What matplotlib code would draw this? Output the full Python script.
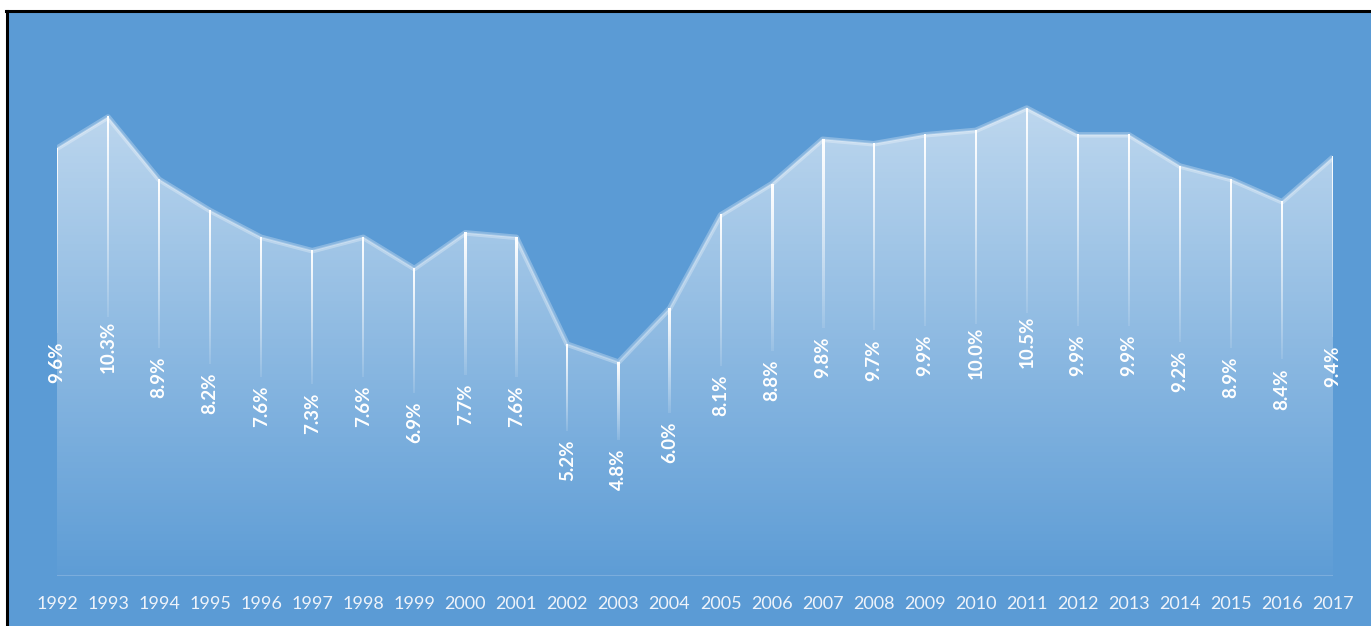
import numpy as np
import matplotlib
matplotlib.use("Agg")
import matplotlib.pyplot as plt
from matplotlib.lines import Line2D
from matplotlib.patches import Polygon

years = [str(y) for y in range(1992, 2018)]
values = [9.6, 10.3, 8.9, 8.2, 7.6, 7.3, 7.6, 6.9, 7.7, 7.6, 5.2, 4.8, 6.0,
          8.1, 8.8, 9.8, 9.7, 9.9, 10.0, 10.5, 9.9, 9.9, 9.2, 8.9, 8.4, 9.4]
labels = [f"{v:.1f}%" for v in values]

BG = "#5B9BD5"
W, H = 1371, 626
fig = plt.figure(figsize=(W / 100, H / 100), dpi=100, facecolor="white")

# blue chart area (background axes)
bg = fig.add_axes([8 / W, 0, 1 - 8 / W, 1 - 12 / H], zorder=-5)
bg.set_facecolor(BG)
bg.set_xticks([]); bg.set_yticks([])
for s in bg.spines.values():
    s.set_visible(False)

fig.lines.append(Line2D([7 / W, 7 / W], [0, 1 - 11 / H], transform=fig.transFigure,
                        color="black", lw=2.2, zorder=10))
fig.lines.append(Line2D([6 / W, 1], [1 - 11 / H, 1 - 11 / H], transform=fig.transFigure,
                        color="black", lw=2.2, zorder=10))

left, right = 57 / W, 1333 / W
bottom = (H - 576) / H
top = 1 - 12 / H
ax = fig.add_axes([left, bottom, right - left, top - bottom], zorder=1)
ax.set_facecolor("none")
n = len(values)
x = np.arange(n)
scale = 44.56
ymax = (576 - 12) / scale
for s in ax.spines.values():
    s.set_visible(False)
ax.set_yticks([])
ax.set_xticks(x)
ax.set_xticklabels(years, color="#EEF3FA", fontsize=13, family=["Lato", "DejaVu Sans"])
ax.tick_params(axis="x", length=0, pad=14.5)

# gradient fill clipped to area polygon
vmax = max(values)
poly_pts = np.vstack([[0, 0], np.column_stack([x, values]), [n - 1, 0]])
poly = Polygon(poly_pts, closed=True, facecolor="none", edgecolor="none")
ax.add_patch(poly)
grad = np.zeros((256, 2, 4))
grad[..., :3] = 1.0
alpha = np.linspace(0.02, 0.6, 256)
grad[..., 3] = alpha[:, None]
im = ax.imshow(grad, extent=[0, n - 1, 0, vmax], origin="lower", aspect="auto",
               interpolation="bilinear", zorder=1)
im.set_clip_path(poly)

# top edge glow
ax.plot(x, values, color="white", alpha=0.28, lw=4, solid_capstyle="butt", zorder=2)
ax.plot(x, values, color="white", alpha=0.25, lw=1.2, zorder=2)

# baseline
ax.axhline(0, color="white", alpha=0.18, lw=1.5, zorder=2)

# fading drop lines (vertical gradient images)
px = (n - 1) / (1333 - 57)  # one pixel in data x units
line_grad = np.zeros((64, 1, 4))
line_grad[..., :3] = 1.0
line_grad[:, 0, 3] = np.linspace(0.12, 1.0, 64)
for xi, v in zip(x, values):
    y_end = v / 2 + 0.66
    ax.imshow(line_grad, extent=[xi - px, xi + px, y_end, v], origin="lower",
              aspect="auto", interpolation="bilinear", zorder=3)

# data labels
for xi, v, lab in zip(x, values, labels):
    ax.text(xi, v / 2, lab, rotation=90, ha="center", va="center", color="white",
            fontsize=13.5, fontweight="bold", family=["Lato", "DejaVu Sans"], zorder=4)

ax.set_xlim(0, n - 1)
ax.set_ylim(0, ymax)
fig.savefig("out.png", dpi=100, facecolor="white")
